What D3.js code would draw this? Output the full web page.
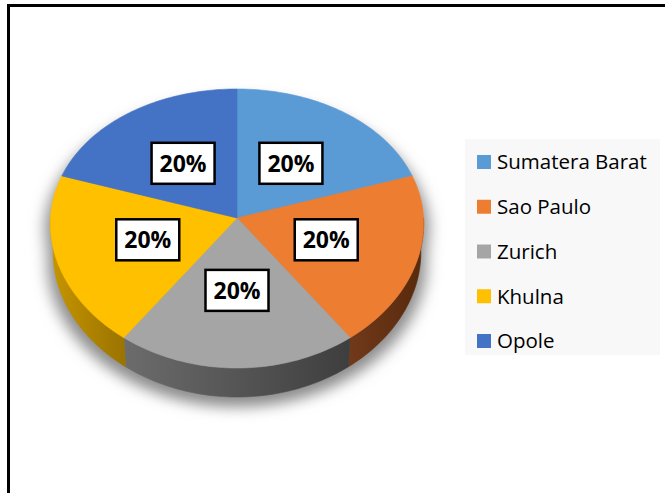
<!DOCTYPE html>
<html lang="en">

<head>
	<meta charset="utf-8">
	<title>pie</title>
	<style>
		html, body { margin: 0; padding: 0; background: #ffffff; }
		svg { display: block; }
	</style>
</head>

<body>
	<script src="https://cdn.jsdelivr.net/npm/d3@7"></script>
	<script>

		// chart data
		const categories = ["Sumatera Barat", "Sao Paulo", "Zurich", "Khulna", "Opole"];
		const values = [20, 20, 20, 20, 20];

		const W = 665, H = 493;

		const color = d3.scaleOrdinal()
			.domain(categories)
			.range(["#5b9bd5", "#ed7d31", "#a5a5a5", "#ffc000", "#4472c4"]);

		// side wall shades (light end, dark end)
		const sideShade = d3.scaleOrdinal()
			.domain(categories)
			.range([["#3d6f9e", "#2e5a82"], ["#70391a", "#58290c"], ["#6c6c6c", "#3e3e3e"], ["#c69500", "#9b7400"], ["#2f5597", "#24437a"]]);

		// pseudo 3d projection of a point on the pie disc
		const cx = 237, cy = 218, rx = 186.5, ry = 139.5, bow = 10.5, depth = 29;
		function proj(a, r, bottom) {
			const u = r * Math.sin(a), v = -r * Math.cos(a);
			const sx = bottom ? 0.985 : 1;
			return [
				cx + rx * sx * u * (1 + 0.04 * v),
				cy + ry * v + bow * v * v + (bottom ? depth : 0)
			];
		}
		function arcPts(a0, a1, bottom) {
			const n = Math.max(2, Math.ceil((a1 - a0) / 0.02));
			return d3.range(n + 1).map(i => proj(a0 + (a1 - a0) * i / n, 1, bottom));
		}

		const pie = d3.pie().sort(null).value(d => d.value);
		const arcs = pie(categories.map((c, i) => ({ name: c, value: values[i] })));
		const total = d3.sum(values);
		const fmt = d3.format(".0%");

		const svg = d3.select("body").append("svg")
			.attr("width", W)
			.attr("height", H);

		const defs = svg.append("defs");
		defs.append("filter")
			.attr("id", "blur")
			.attr("x", "-20%").attr("y", "-20%")
			.attr("width", "140%").attr("height", "140%")
			.append("feGaussianBlur")
			.attr("stdDeviation", 7);

		const line = d3.line();

		// soft shadow under the pie
		const silhouette = arcPts(Math.PI / 2, Math.PI * 1.5, true)
			.concat(arcPts(-Math.PI / 2, Math.PI / 2, false));
		svg.append("path")
			.attr("d", line(silhouette) + "Z")
			.attr("transform", `translate(${cx},10) scale(1.03,1) translate(${-cx},0)`)
			.attr("fill", "#8c8c8c")
			.attr("filter", "url(#blur)");

		// visible side walls (front half only)
		const front = arcs.map(d => ({
			d,
			a0: Math.max(d.startAngle, Math.PI / 2),
			a1: Math.min(d.endAngle, Math.PI * 1.5)
		})).filter(s => s.a1 > s.a0);

		front.forEach((s, i) => {
			const top = arcPts(s.a0, s.a1, false);
			const bot = arcPts(s.a0, s.a1, true).reverse();
			const gid = "side" + i;
			const shade = sideShade(s.d.data.name);
			const x0 = d3.min(top, p => p[0]), x1 = d3.max(top, p => p[0]);
			const g = defs.append("linearGradient")
				.attr("id", gid)
				.attr("gradientUnits", "userSpaceOnUse")
				.attr("x1", x0).attr("x2", x1).attr("y1", 0).attr("y2", 0);
			g.append("stop").attr("offset", "0%").attr("stop-color", shade[0]);
			g.append("stop").attr("offset", "100%").attr("stop-color", shade[1]);
			svg.append("path")
				.attr("d", line(top.concat(bot)) + "Z")
				.attr("fill", `url(#${gid})`)
				.attr("stroke", `url(#${gid})`)
				.attr("stroke-width", 0.6);
		});

		// top faces
		svg.append("g")
			.selectAll("path")
			.data(arcs)
			.join("path")
			.attr("d", d => line([[cx, cy]].concat(arcPts(d.startAngle, d.endAngle, false))) + "Z")
			.attr("fill", d => color(d.data.name))
			.attr("stroke", d => color(d.data.name))
			.attr("stroke-width", 0.6);

		// data labels
		const lab = svg.append("g")
			.selectAll("g")
			.data(arcs)
			.join("g")
			.attr("transform", d => {
				const p = proj((d.startAngle + d.endAngle) / 2, 0.5, false);
				return `translate(${p[0]},${p[1]})`;
			});
		lab.append("rect")
			.attr("x", -31.5).attr("y", -20.5)
			.attr("width", 63).attr("height", 41)
			.attr("fill", "#ffffff")
			.attr("stroke", "#000000")
			.attr("stroke-width", 2.5);
		lab.append("text")
			.attr("text-anchor", "middle")
			.attr("dy", "0.36em")
			.attr("font-family", "'Open Sans', sans-serif")
			.attr("font-weight", "bold")
			.attr("font-size", "23px")
			.attr("fill", "#000000")
			.text(d => fmt(d.data.value / total));

		// legend
		const ly = d3.scalePoint().domain(categories).range([162, 341]);
		svg.append("rect")
			.attr("x", 465).attr("y", 139)
			.attr("width", 195).attr("height", 216)
			.attr("fill", "#f8f8f8");
		const leg = svg.append("g")
			.selectAll("g")
			.data(categories)
			.join("g")
			.attr("transform", d => `translate(477,${ly(d)})`);
		leg.append("rect")
			.attr("x", 0).attr("y", -7)
			.attr("width", 14).attr("height", 14)
			.attr("fill", d => color(d));
		leg.append("text")
			.attr("x", 20)
			.attr("dy", "0.36em")
			.attr("font-family", "'Open Sans', sans-serif")
			.attr("font-size", "20.5px")
			.attr("fill", "#000000")
			.text(d => d);

		// frame (cropped on right and bottom)
		svg.append("path")
			.attr("d", `M8.5,${H + 5}V5.5H${W + 5}`)
			.attr("fill", "none")
			.attr("stroke", "#000000")
			.attr("stroke-width", 3);

	</script>
</body>

</html>
